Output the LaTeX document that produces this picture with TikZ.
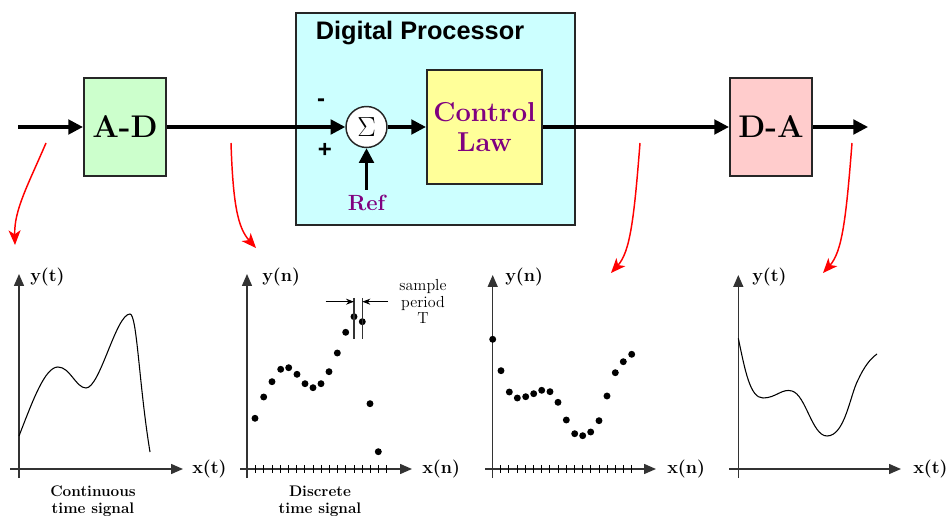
\documentclass[tikz,border=0pt]{standalone}
\usepackage{fontspec}
\newfontfamily\arialf{Liberation Sans}
\usetikzlibrary{arrows.meta}
\definecolor{adgreen}{HTML}{CCFFCC}
\definecolor{dpcyan}{HTML}{CCFFFF}
\definecolor{clyellow}{HTML}{FFFF99}
\definecolor{dapink}{HTML}{FFCCCC}
\definecolor{lawpurple}{HTML}{800080}
\definecolor{axisgray}{HTML}{333333}
\tikzset{
  blkbox/.style={draw=black!85, line width=1.6pt, inner sep=0pt, align=center},
  sig/.style={line width=2.3pt, -{Triangle[length=11pt,width=11pt]}},
  redarr/.style={red, line width=1.1pt, -{Stealth[length=11pt,width=9pt,inset=3pt]}},
  axis/.style={axisgray, line width=1.1pt, -{Triangle[length=9pt,width=7.5pt]}},
  curve/.style={black, line width=0.8pt},
  tick/.style={black, line width=0.7pt},
  dot/.style={black},
  axlabel/.style={font=\fontsize{13.5}{15}\selectfont\bfseries, inner sep=0pt},
  caption/.style={font=\fontsize{11.5}{12.75}\selectfont\bfseries, align=center, inner sep=0pt},
  bigbold/.style={font=\fontsize{23.5}{26}\selectfont\bfseries},
}
\begin{document}
\begin{tikzpicture}[x=0.75pt,y=-0.75pt]
\useasboundingbox (0,0) rectangle (946,516);

% ---------- top block diagram ----------
\node[blkbox, fill=dpcyan, line width=1.8pt, minimum width=209.25pt, minimum height=159pt] (dp) at (435.5,119) {};
\node[anchor=base, inner sep=0pt, font=\arialf\bfseries\fontsize{19}{21}\selectfont] (dptitle) at (420,39.5) {Digital Processor};

\node[blkbox, fill=adgreen, minimum width=61.5pt, minimum height=73.5pt, bigbold] (ad) at (125,127) {A-D};
\node[blkbox, fill=dapink, minimum width=61.5pt, minimum height=73.5pt, bigbold] (da) at (771,127) {D-A};
\node[blkbox, fill=clyellow, minimum width=86.25pt, minimum height=85.5pt, text=lawpurple,
      font=\fontsize{20.5}{22.5}\selectfont\bfseries] (cl) at (484.5,127) {Control\\Law};
\node[draw=black!85, fill=white, circle, line width=1.1pt, minimum size=30.75pt, inner sep=0pt,
      font=\fontsize{22}{24}\selectfont] (sum) at (366.5,127) {$\Sigma$};

\node[inner sep=0pt, font=\arialf\bfseries\fontsize{18}{20}\selectfont] (minus) at (321,103) {-};
\node[inner sep=0pt, font=\arialf\bfseries\fontsize{18}{20}\selectfont] (plus) at (325,150) {+};
\node[anchor=base, inner sep=0pt, text=lawpurple, font=\fontsize{16.5}{18}\selectfont\bfseries] (ref) at (366.5,211) {Ref};

\coordinate (in) at (18,127);
\coordinate (out) at (868,127);
\coordinate (refstart) at (366.5,190);

\draw[sig] (in) -- (ad.west);
\draw[sig] (ad.east) -- (sum.west);
\draw[sig] (sum.east) -- (cl.west);
\draw[sig] (cl.east) -- (da.west);
\draw[sig] (da.east) -- (out);
\draw[sig] (refstart) -- (sum.south);

% ---------- red pointer arrows ----------
\coordinate (r1a) at (46,143);  \coordinate (r1b) at (15,245);
\coordinate (r2a) at (231,143); \coordinate (r2b) at (256,248);
\coordinate (r3a) at (640,143); \coordinate (r3b) at (611,273);
\coordinate (r4a) at (852,143); \coordinate (r4b) at (823,273);
\draw[redarr] (r1a) .. controls (28,185) and (14,210) .. (r1b);
\draw[redarr] (r2a) .. controls (233,205) and (238,228) .. (r2b);
\draw[redarr] (r3a) .. controls (634,220) and (630,252) .. (r3b);
\draw[redarr] (r4a) .. controls (846,220) and (842,252) .. (r4b);

% ---------- plot 1: continuous ----------
\draw[axis] (19,478) -- (19,274);
\draw[axis] (10,469) -- (183,469);
\node[axlabel, anchor=west] (y1) at (30,277) {y(t)};
\node[axlabel, anchor=west] (x1) at (192,469) {x(t)};
\draw[curve] (19,436) .. controls (33,400) and (45,367) .. (58,367)
  .. controls (70,367) and (76,388) .. (86,388)
  .. controls (100,388) and (116,314) .. (130,314)
  .. controls (137,314) and (139,385) .. (150,452);
\node[caption] (c1) at (93,501) {Continuous\\time signal};

% ---------- plot 2: discrete ----------
\draw[axis] (247,478) -- (247,274);
\draw[axis] (240,469) -- (412,469);
\foreach \i in {0,...,16} \draw[tick] ({255.7+8.2*\i},465) -- ({255.7+8.2*\i},473);
\foreach \x/\y in {255/418.3, 263.7/397, 272/381.7, 280.7/369.3, 288.7/367.7, 297/374.3,
   305/383.7, 313/387.7, 321/383.7, 329/371.7, 337.3/353, 345.7/332.3, 354/316.7,
   362.3/321.7, 370/403.7, 378.3/451.7}
  \fill[dot] (\x,\y) circle[radius=2.6pt];
\node[axlabel, anchor=west] (y2) at (262,277) {y(n)};
\node[axlabel, anchor=west] (x2) at (422,469) {x(n)};
\node[caption] (c2) at (320,501) {Discrete\\time signal};
% sample period annotation
\coordinate (t1a) at (354,298);   \coordinate (t1b) at (354,339);
\coordinate (t2a) at (362.3,298); \coordinate (t2b) at (362.3,339);
\draw[axisgray, line width=0.8pt] (t1a) -- (t1b);
\draw[axisgray, line width=0.8pt] (t2a) -- (t2b);
\coordinate (pa) at (325.7,301.7); \coordinate (pat) at (354,301.7);
\coordinate (pb) at (388,301.7);   \coordinate (pbt) at (362.3,301.7);
\draw[line width=0.7pt, -{Stealth[length=6pt,width=4.5pt]}] (pa) -- (pat);
\draw[line width=0.7pt, -{Stealth[length=6pt,width=4.5pt]}] (pb) -- (pbt);
\node[align=center, inner sep=0pt, font=\fontsize{12}{12.5}\selectfont] (sp) at (423,301.5) {sample\\period\\T};

% ---------- plot 3: discrete output ----------
\draw[axis] (492.7,478) -- (492.7,275);
\draw[axis] (485,469) -- (656,469);
\foreach \i in {0,...,16} \draw[tick] ({500.7+8.2*\i},465) -- ({500.7+8.2*\i},473);
\foreach \x/\y in {492.7/339.3, 501/370.7, 509.3/392, 517.3/398, 525.7/396.7, 533.7/393.7,
   541.7/390.3, 550/391.7, 558/402.3, 566.3/420, 574.7/433.7, 582.7/435.7, 590.7/432,
   599/420.7, 607/396, 615.3/372.7, 623.3/361.7, 631.7/354.3}
  \fill[dot] (\x,\y) circle[radius=2.6pt];
\node[axlabel, anchor=west] (y3) at (505,277) {y(n)};
\node[axlabel, anchor=west] (x3) at (667,469) {x(n)};

% ---------- plot 4: continuous output ----------
\draw[axis] (738.3,478) -- (738.3,275);
\draw[axis] (729,469) -- (901,469);
\node[axlabel, anchor=west] (y4) at (752,277) {y(t)};
\node[axlabel, anchor=west] (x4) at (913,469) {x(t)};
\draw[curve] (738.3,338.3) .. controls (745,370) and (750,398) .. (763,398)
  .. controls (776,398) and (782,388) .. (792,391)
  .. controls (806,395) and (812,436) .. (827,436)
  .. controls (845,436) and (850,395) .. (858,380)
  .. controls (864,367) and (870,359) .. (877,354);
\end{tikzpicture}
\end{document}
